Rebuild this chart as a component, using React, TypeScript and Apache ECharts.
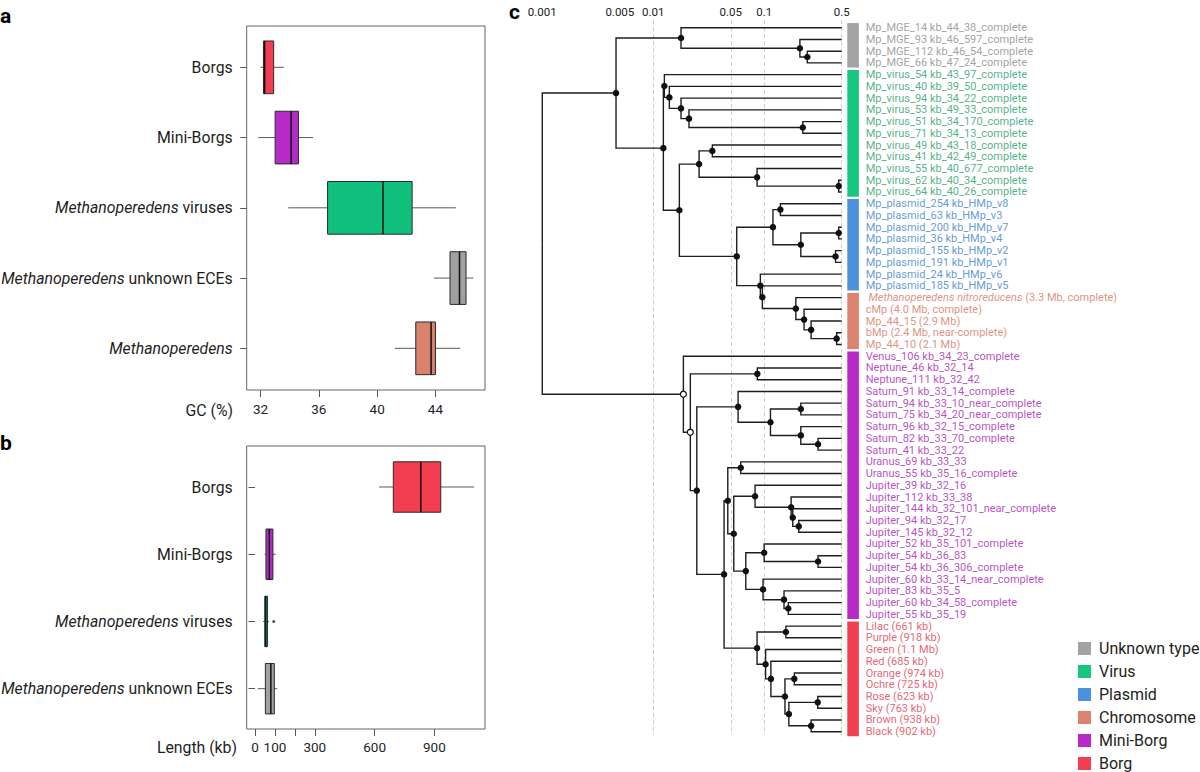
import React, { useEffect, useRef } from 'react';
import * as echarts from 'echarts';

const FONT = 'Roboto, "Noto Sans", sans-serif';

// ---------- Panel a: GC content ----------
const gcCategories = [
  'Borgs',
  'Mini-Borgs',
  '*Methanoperedens* viruses',
  '*Methanoperedens* unknown ECEs',
  '*Methanoperedens*',
];
// [min, Q1, median, Q3, max]
const gcBoxes = [
  [32.0, 32.2, 32.28, 32.9, 33.6],
  [31.85, 33.0, 34.1, 34.6, 35.6],
  [33.9, 36.6, 40.4, 42.4, 45.4],
  [43.9, 45.0, 45.65, 46.1, 46.6],
  [41.2, 42.65, 43.7, 44.0, 45.7],
];
const gcTicks = [32, 36, 40, 44];
const gcColors = ['#F23E50', '#B62BC8', '#12C07E', '#A0A0A0', '#D9826E'];

// ---------- Panel b: genome length ----------
const lengthCategories = [
  'Borgs',
  'Mini-Borgs',
  '*Methanoperedens* viruses',
  '*Methanoperedens* unknown ECEs',
];
const lengthBoxes = [
  [623, 694, 832, 932, 1100],
  [48, 55, 72, 90, 104],
  [40, 49, 54, 63, 71],
  [14, 52, 79.5, 97, 112],
];
const lengthOutliers = [[94, 2]];
const lengthTicks = [0, 100, 200, 300, 600, 900];
const lengthTickLabels = [0, 100, 300, 600, 900];
const lengthColors = ['#F23E50', '#B62BC8', '#12C07E', '#A0A0A0'];

// ---------- Panel c: tree ----------
const treeTicks = [0.001, 0.005, 0.01, 0.05, 0.1, 0.5];
const leafDistance = 0.5;
const leafNames = [
  'Mp_MGE_14 kb_44_38_complete',
  'Mp_MGE_93 kb_46_597_complete',
  'Mp_MGE_112 kb_46_54_complete',
  'Mp_MGE_66 kb_47_24_complete',
  'Mp_virus_54 kb_43_97_complete',
  'Mp_virus_40 kb_39_50_complete',
  'Mp_virus_94 kb_34_22_complete',
  'Mp_virus_53 kb_49_33_complete',
  'Mp_virus_51 kb_34_170_complete',
  'Mp_virus_71 kb_34_13_complete',
  'Mp_virus_49 kb_43_18_complete',
  'Mp_virus_41 kb_42_49_complete',
  'Mp_virus_55 kb_40_677_complete',
  'Mp_virus_62 kb_40_34_complete',
  'Mp_virus_64 kb_40_26_complete',
  'Mp_plasmid_254 kb_HMp_v8',
  'Mp_plasmid_63 kb_HMp_v3',
  'Mp_plasmid_200 kb_HMp_v7',
  'Mp_plasmid_36 kb_HMp_v4',
  'Mp_plasmid_155 kb_HMp_v2',
  'Mp_plasmid_191 kb_HMp_v1',
  'Mp_plasmid_24 kb_HMp_v6',
  'Mp_plasmid_185 kb_HMp_v5',
  ' *Methanoperedens nitroreducens* (3.3 Mb, complete)',
  'cMp (4.0 Mb, complete)',
  'Mp_44_15 (2.9 Mb)',
  'bMp (2.4 Mb, near-complete)',
  'Mp_44_10 (2.1 Mb)',
  'Venus_106 kb_34_23_complete',
  'Neptune_46 kb_32_14',
  'Neptune_111 kb_32_42',
  'Saturn_91 kb_33_14_complete',
  'Saturn_94 kb_33_10_near_complete',
  'Saturn_75 kb_34_20_near_complete',
  'Saturn_96 kb_32_15_complete',
  'Saturn_82 kb_33_70_complete',
  'Saturn_41 kb_33_22',
  'Uranus_69 kb_33_33',
  'Uranus_55 kb_35_16_complete',
  'Jupiter_39 kb_32_16',
  'Jupiter_112 kb_33_38',
  'Jupiter_144 kb_32_101_near_complete',
  'Jupiter_94 kb_32_17',
  'Jupiter_145 kb_32_12',
  'Jupiter_52 kb_35_101_complete',
  'Jupiter_54 kb_36_83',
  'Jupiter_54 kb_36_306_complete',
  'Jupiter_60 kb_33_14_near_complete',
  'Jupiter_83 kb_35_5',
  'Jupiter_60 kb_34_58_complete',
  'Jupiter_55 kb_35_19',
  'Lilac (661 kb)',
  'Purple (918 kb)',
  'Green (1.1 Mb)',
  'Red (685 kb)',
  'Orange (974 kb)',
  'Ochre (725 kb)',
  'Rose (623 kb)',
  'Sky (763 kb)',
  'Brown (938 kb)',
  'Black (902 kb)',
];
const groupNames = ['Unknown type', 'Virus', 'Plasmid', 'Chromosome', 'Mini-Borg', 'Borg'];
const groupColors = ['#A3A3A3', '#18C77F', '#4C91DB', '#DA846F', '#B72AC7', '#F23F51'];
const groupTextColors = ['#8A8A8A', '#1F9E6A', '#3A80CB', '#D5765F', '#A424B3', '#E03A4C'];
const groupStart = [0, 4, 15, 23, 28, 51];
const groupEnd = [3, 14, 22, 27, 50, 60];

// internal nodes: [id, distance, children] (numbers = leaf indices)
const treeNodes: [string, number, (string | number)[]][] = [
  ['root', 0.001, ['D', 'BA']],
  ['D', 0.00462, ['A', 'E']],
  ['A', 0.0178, [0, 'B']],
  ['B', 0.21, [1, 'C']],
  ['C', 0.245, [2, 3]],
  ['E', 0.01234, ['F', 'K']],
  ['F', 0.0126, [4, 'G']],
  ['G', 0.01397, [5, 'H']],
  ['H', 0.0178, [6, 'I']],
  ['I', 0.021, [7, 'J']],
  ['J', 0.223, [8, 9]],
  ['K', 0.0172, ['L', 'M']],
  ['L', 0.0259, ['N', 'O']],
  ['N', 0.0341, [10, 11]],
  ['O', 0.0863, [12, 'P']],
  ['P', 0.47, [13, 14]],
  ['M', 0.0566, ['Q', 'R']],
  ['Q', 0.12, ['S', 'T']],
  ['S', 0.14, [15, 16]],
  ['T', 0.214, ['U', 'V']],
  ['U', 0.47, [17, 18]],
  ['V', 0.44, [19, 20]],
  ['R', 0.0924, [21, 'W']],
  ['W', 0.0963, [22, 'X']],
  ['X', 0.193, [23, 'Y']],
  ['Y', 0.229, [24, 'Z']],
  ['Z', 0.265, [25, 'AA']],
  ['AA', 0.45, [26, 27]],
  ['BA', 0.0187, [28, 'BB']],
  ['BB', 0.0216, ['BC', 'BD']],
  ['BC', 0.0868, [29, 30]],
  ['BD', 0.0247, ['BE', 'BF']],
  ['BE', 0.0582, [31, 'BG']],
  ['BG', 0.114, ['BH', 'BI']],
  ['BH', 0.214, [32, 33]],
  ['BI', 0.214, [34, 'BJ']],
  ['BJ', 0.306, [35, 36]],
  ['BF', 0.0435, ['BK', 'BL']],
  ['BK', 0.047, ['BM', 'BN']],
  ['BM', 0.0615, [37, 38]],
  ['BN', 0.0532, ['BO', 'BP']],
  ['BO', 0.0828, [39, 'BQ']],
  ['BQ', 0.175, [40, 'BR']],
  ['BR', 0.181, [41, 'BS']],
  ['BS', 0.205, [42, 43]],
  ['BP', 0.0683, ['BT', 'BU']],
  ['BT', 0.1, [44, 'BV']],
  ['BV', 0.306, [45, 46]],
  ['BU', 0.0977, [47, 'BW']],
  ['BW', 0.151, [48, 'BX']],
  ['BX', 0.165, [49, 50]],
  ['BL', 0.0863, ['BY', 'BZ']],
  ['BY', 0.157, [51, 52]],
  ['BZ', 0.103, [53, 'CA']],
  ['CA', 0.115, [54, 'CB']],
  ['CB', 0.154, ['CC', 'CD']],
  ['CC', 0.187, [55, 56]],
  ['CD', 0.167, ['CE', 'CF']],
  ['CE', 0.304, [57, 58]],
  ['CF', 0.265, [59, 60]],
];
const openNodes = ['BA', 'BB'];
const noDotNodes = ['root'];

// ---------- helpers ----------
const italicRich = (s: string) => s.replace(/\*([^*]+)\*/g, '{i|$1}');

function buildTree() {
  const map = new Map<string, [string, number, (string | number)[]]>();
  treeNodes.forEach((n) => map.set(n[0], n));
  const memo = new Map<string, number>();
  const yOf = (c: string | number): number => {
    if (typeof c === 'number') return c;
    if (memo.has(c)) return memo.get(c)!;
    const kids = map.get(c)![2];
    const y = kids.reduce((s: number, k) => s + yOf(k), 0) / kids.length;
    memo.set(c, y);
    return y;
  };
  const xOf = (c: string | number): number => (typeof c === 'number' ? leafDistance : map.get(c)![1]);
  const branches: any[] = [];
  const filled: any[] = [];
  const open: any[] = [];
  treeNodes.forEach(([id, d, kids]) => {
    const ny = yOf(id);
    kids.forEach((k) => {
      const cy = yOf(k);
      branches.push({ coords: [[d, ny], [d, cy], [xOf(k), cy]] });
    });
    if (openNodes.includes(id)) open.push([d, ny]);
    else if (!noDotNodes.includes(id)) filled.push([d, ny]);
  });
  return { branches, filled, open };
}

const groupOf = (i: number) => groupStart.findIndex((s, g) => i >= s && i <= groupEnd[g]);

function boxRenderer(colors: string[]) {
  return (params: any, api: any) => {
    const cat = api.value(0);
    const px = [1, 2, 3, 4, 5].map((d) => api.coord([api.value(d), cat])[0]);
    const cy = api.coord([api.value(3), cat])[1];
    const h = api.size([0, 1])[1] * 0.75;
    const [mn, q1, md, q3, mx] = px;
    return {
      type: 'group',
      children: [
        { type: 'line', shape: { x1: mn, y1: cy, x2: q1, y2: cy }, style: { stroke: '#5a5a5a', lineWidth: 1 } },
        { type: 'line', shape: { x1: q3, y1: cy, x2: mx, y2: cy }, style: { stroke: '#5a5a5a', lineWidth: 1 } },
        {
          type: 'rect',
          shape: { x: q1, y: cy - h / 2, width: q3 - q1, height: h },
          style: { fill: colors[params.dataIndex], stroke: '#2b2b2b', lineWidth: 1 },
        },
        { type: 'line', shape: { x1: md, y1: cy - h / 2, x2: md, y2: cy + h / 2 }, style: { stroke: '#111', lineWidth: 1.5 } },
      ],
    };
  };
}

const catAxis = (grid: number, data: string[]) => ({
  type: 'category',
  gridIndex: grid,
  data,
  inverse: true,
  axisLine: { show: false },
  axisTick: { show: true, alignWithLabel: true, length: 6.5, lineStyle: { color: '#555', width: 1 } },
  axisLabel: {
    margin: 14,
    fontSize: 15.8,
    color: '#1e1e1e',
    fontFamily: FONT,
    formatter: (v: string) => italicRich(v),
    rich: { i: { fontStyle: 'italic', fontSize: 15.8, color: '#1e1e1e', fontFamily: FONT } },
  },
  splitLine: { show: false },
});

const hiddenValue = (grid: number, min?: number, max?: number) => ({
  type: 'value',
  gridIndex: grid,
  show: false,
  min,
  max,
  splitLine: { show: false },
});

function buildOption() {
  const { branches, filled, open } = buildTree();
  const leafData = leafNames.map((name, i) => {
    const g = groupOf(i);
    const col = groupTextColors[g];
    return {
      value: [leafDistance, i],
      label: {
        color: col,
        formatter: italicRich(name),
        rich: { i: { fontStyle: 'italic', color: col, fontSize: 11, fontFamily: FONT } },
      },
    };
  });

  const gcMin = 31.05;
  const gcMax = 47.4;
  const lenMin = -41.6;
  const lenMax = 1154;

  const groupSeries = groupNames.map((name, g) => ({
    type: 'custom',
    name,
    xAxisIndex: 4,
    yAxisIndex: 4,
    itemStyle: { color: groupColors[g] },
    data: [[leafDistance, groupStart[g], groupEnd[g]]],
    encode: { x: 0, y: [1, 2] },
    silent: true,
    renderItem: (params: any, api: any) => {
      const top = api.coord([api.value(0), api.value(1) - 0.5]);
      const bot = api.coord([api.value(0), api.value(2) + 0.5]);
      return {
        type: 'rect',
        shape: { x: top[0] + 5.6, y: top[1] + 1.2, width: 11.6, height: bot[1] - top[1] - 2.4 },
        style: { fill: api.visual('color') },
      };
    },
  }));

  return {
    animation: false,
    backgroundColor: '#fff',
    textStyle: { fontFamily: FONT },
    grid: [
      { left: 246.7, top: 26, width: 238.3, height: 364, show: true, borderColor: '#666', borderWidth: 1, backgroundColor: 'transparent', outerBoundsMode: 'none' },
      { left: 246.7, top: 32.2, width: 238.3, height: 351.25, outerBoundsMode: 'none' },
      { left: 246.7, top: 446, width: 238.3, height: 283, show: true, borderColor: '#666', borderWidth: 1, backgroundColor: 'transparent', outerBoundsMode: 'none' },
      { left: 246.7, top: 453.4, width: 238.3, height: 268.9, outerBoundsMode: 'none' },
      { left: 542.3, top: 20.1, width: 299.4, height: 715.1, outerBoundsMode: 'none' },
    ],
    xAxis: [
      {
        type: 'value',
        gridIndex: 0,
        min: gcMin,
        max: gcMax,
        axisLine: { show: false },
        axisTick: { show: true, length: 7, customValues: gcTicks, lineStyle: { color: '#555' } },
        axisLabel: { customValues: gcTicks, margin: 12, fontSize: 13.5, color: '#1e1e1e', fontFamily: FONT },
        splitLine: { show: false },
      },
      hiddenValue(1, gcMin, gcMax),
      {
        type: 'value',
        gridIndex: 2,
        min: lenMin,
        max: lenMax,
        axisLine: { show: false },
        axisTick: { show: true, length: 7, customValues: lengthTicks, lineStyle: { color: '#555' } },
        axisLabel: { customValues: lengthTickLabels, margin: 11, fontSize: 13.5, color: '#1e1e1e', fontFamily: FONT },
        splitLine: { show: false },
      },
      hiddenValue(3, lenMin, lenMax),
      {
        type: 'log',
        logBase: 10,
        gridIndex: 4,
        min: 0.001,
        max: 0.5,
        position: 'top',
        axisLine: { show: false },
        axisTick: { show: false },
        axisLabel: {
          customValues: treeTicks,
          margin: 2,
          fontSize: 11.5,
          color: '#222',
          fontFamily: FONT,
          formatter: (v: number) => String(Number(v.toPrecision(2))),
        },
        splitLine: { show: false },
      },
    ],
    yAxis: [
      hiddenValue(0, 0, 1),
      catAxis(1, gcCategories),
      hiddenValue(2, 0, 1),
      catAxis(3, lengthCategories),
      { type: 'value', gridIndex: 4, inverse: true, min: -0.65, max: 60.3, show: false, splitLine: { show: false } },
    ],
    legend: {
      data: groupNames,
      orient: 'vertical',
      left: 1078,
      top: 640.5,
      padding: 0,
      icon: 'rect',
      itemWidth: 13,
      itemHeight: 13,
      itemGap: 7,
      selectedMode: false,
      textStyle: { fontSize: 16, lineHeight: 16, color: '#1e1e1e', fontFamily: FONT, padding: [0, 0, 0, 3] },
    },
    graphic: [
      { type: 'text', left: 0, top: 5, style: { text: 'a', font: `bold 21px ${FONT}`, fill: '#000' } },
      { type: 'text', left: 0, top: 432, style: { text: 'b', font: `bold 21px ${FONT}`, fill: '#000' } },
      { type: 'text', left: 509, top: 1, style: { text: 'c', font: `bold 21px ${FONT}`, fill: '#000' } },
      { type: 'text', x: 233, y: 410, style: { text: 'GC (%)', font: `15.8px ${FONT}`, fill: '#1e1e1e', align: 'right', verticalAlign: 'middle' } },
      { type: 'text', x: 237, y: 747, style: { text: 'Length (kb)', font: `15.8px ${FONT}`, fill: '#1e1e1e', align: 'right', verticalAlign: 'middle' } },
    ],
    series: [
      {
        type: 'custom',
        name: 'gc',
        xAxisIndex: 1,
        yAxisIndex: 1,
        data: gcBoxes.map((b, i) => [i, ...b]),
        encode: { x: [1, 2, 3, 4, 5], y: 0 },
        renderItem: boxRenderer(gcColors),
        silent: true,
      },
      {
        type: 'custom',
        name: 'length',
        xAxisIndex: 3,
        yAxisIndex: 3,
        data: lengthBoxes.map((b, i) => [i, ...b]),
        encode: { x: [1, 2, 3, 4, 5], y: 0 },
        renderItem: boxRenderer(lengthColors),
        silent: true,
      },
      {
        type: 'scatter',
        name: 'outlier',
        xAxisIndex: 3,
        yAxisIndex: 3,
        data: lengthOutliers,
        symbolSize: 3,
        itemStyle: { color: '#222' },
        silent: true,
      },
      {
        type: 'lines',
        name: 'branches',
        coordinateSystem: 'cartesian2d',
        xAxisIndex: 4,
        yAxisIndex: 4,
        polyline: true,
        data: branches,
        lineStyle: { color: '#1e1e1e', width: 1.4, opacity: 1 },
        silent: true,
        z: 2,
      },
      {
        type: 'scatter',
        name: 'nodes',
        xAxisIndex: 4,
        yAxisIndex: 4,
        data: filled,
        symbolSize: 6.5,
        itemStyle: { color: '#111', opacity: 1 },
        silent: true,
        z: 4,
      },
      {
        type: 'scatter',
        name: 'openNodes',
        xAxisIndex: 4,
        yAxisIndex: 4,
        data: open,
        symbolSize: 6,
        itemStyle: { color: '#fff', borderColor: '#111', borderWidth: 1.2, opacity: 1 },
        silent: true,
        z: 4,
      },
      {
        type: 'scatter',
        name: 'leaves',
        xAxisIndex: 4,
        yAxisIndex: 4,
        data: leafData,
        symbolSize: 0,
        silent: true,
        label: { show: true, position: 'right', distance: 24, fontSize: 11, fontFamily: FONT },
        markLine: {
          silent: true,
          symbol: ['none', 'none'],
          label: { show: false },
          lineStyle: { color: '#cfcfcf', type: [4, 3], width: 1 },
          emphasis: { disabled: true },
          data: treeTicks.map((t) => ({ xAxis: t })),
          z: 1,
        },
        z: 3,
      },
      ...groupSeries,
    ],
  };
}

export default function App() {
  const ref = useRef<HTMLDivElement>(null);
  useEffect(() => {
    if (!ref.current) return;
    const chart = echarts.init(ref.current, null, { renderer: 'svg' });
    chart.setOption(buildOption() as any);
    return () => chart.dispose();
  }, []);
  return (
    <div
      ref={ref}
      style={{ position: 'absolute', left: 0, top: 0, width: 1200, height: 772, background: '#fff' }}
    />
  );
}
